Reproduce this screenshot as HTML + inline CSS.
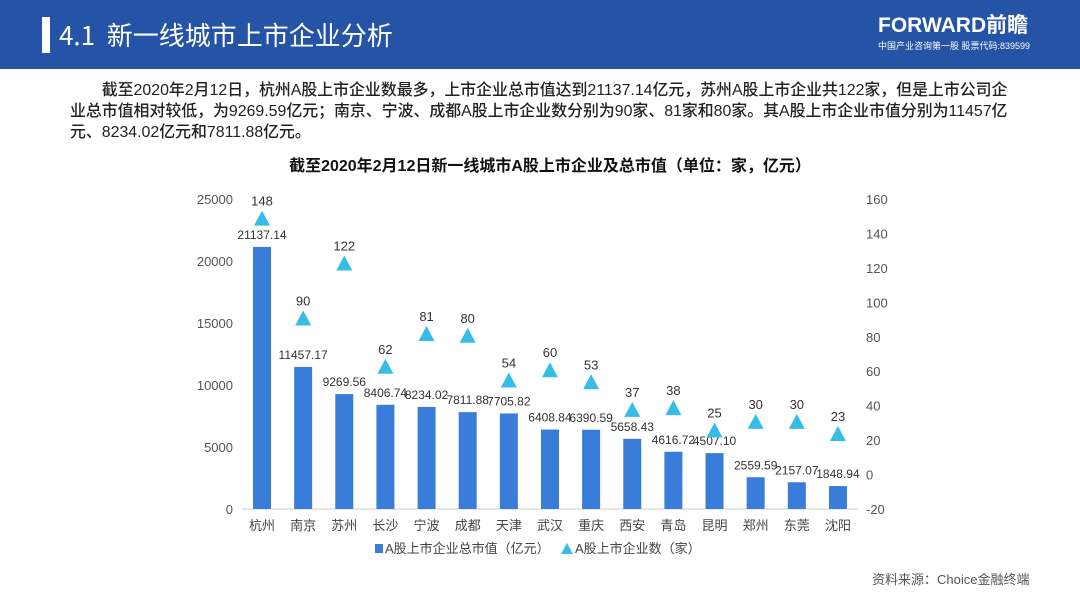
<!DOCTYPE html>
<html><head><meta charset="utf-8"><style>
body{margin:0;width:1080px;height:608px;background:#fff;overflow:hidden;position:relative;font-family:"Liberation Sans","Noto Sans CJK SC",sans-serif}
.hdr{position:absolute;left:0;top:0;width:1080px;height:69px;background:#2553a5}
.bar{position:absolute;left:42px;top:17px;width:8px;height:36px;background:#fff}
.ttl{position:absolute;left:59px;top:17px;color:#fff;font-size:26px;line-height:36px;font-family:"Noto Sans CJK SC",sans-serif}
.logo{position:absolute;left:878px;top:14px;color:#fff;font-size:21px;font-weight:bold;line-height:24px}
.logo2{position:absolute;left:878px;top:40px;color:#fff;font-size:9px;line-height:12px}
.p{position:absolute;left:70px;top:80px;width:950px;font-size:15.9px;line-height:21px;color:#222;font-family:"Liberation Sans","Noto Sans CJK SC",sans-serif;font-weight:500}
.src{position:absolute;left:872px;top:569px;font-size:13px;color:#555}
svg{position:absolute;left:0;top:0}
</style></head><body>
<div class="hdr"></div>
<div class="bar"></div>
<div class="ttl">4.1&nbsp; 新一线城市上市企业分析</div>
<div class="logo">FORWARD前瞻</div>
<div class="logo2">中国产业咨询第一股 股票代码:839599</div>
<div class="p">&emsp;&emsp;截至2020年2月12日，杭州A股上市企业数最多，上市企业总市值达到21137.14亿元，苏州A股上市企业共122家，但是上市公司企业总市值相对较低，为9269.59亿元；南京、宁波、成都A股上市企业数分别为90家、81家和80家。其A股上市企业市值分别为11457亿元、8234.02亿元和7811.88亿元。</div>
<div class="src">资料来源：Choice金融终端</div>
<svg id="c" width="1080" height="608"></svg>
<script>
const cities=["杭州","南京","苏州","长沙","宁波","成都","天津","武汉","重庆","西安","青岛","昆明","郑州","东莞","沈阳"];
const values=[21137.14,11457.17,9269.56,8406.74,8234.02,7811.88,7705.82,6408.84,6390.59,5658.43,4616.72,4507.10,2559.59,2157.07,1848.94];
const counts=[148,90,122,62,81,80,54,60,53,37,38,25,30,30,23];
const leftTicks=[0,5000,10000,15000,20000,25000];
const rightTicks=[-20,0,20,40,60,80,100,120,140,160];
const NS="http://www.w3.org/2000/svg",svg=document.getElementById('c');
const yL=v=>509-v/25000*310, yR=v=>509-(v+20)/180*310, xC=i=>262+i*41.14;
function mk(t,a,txt){const e=document.createElementNS(NS,t);for(const k in a)e.setAttribute(k,a[k]);if(txt!=null)e.textContent=txt;svg.appendChild(e);return e;}
let t=mk('text',{x:550,y:171,'text-anchor':'middle','font-size':16,'font-weight':'bold',fill:'#111'},'截至2020年2月12日新一线城市A股上市企业及总市值（单位：家，亿元）');

leftTicks.forEach(v=>{const e=mk('text',{x:233,y:yL(v)+5,'text-anchor':'end','font-size':13,fill:'#555'},String(v));});
rightTicks.forEach(v=>{const e=mk('text',{x:866,y:yR(v)+5,'font-size':13,fill:'#555'},String(v));});
let ax=mk('line',{x1:242,x2:858,y1:509,y2:509,stroke:'#ccc'});
values.forEach((v,i)=>{
 const b=mk('rect',{x:xC(i)-9,y:yL(v),width:18,height:509-yL(v),fill:'#3a7dd8'});
 
 const l=mk('text',{x:xC(i),y:yL(v)-8,'text-anchor':'middle','font-size':12,fill:'#333'},v.toFixed(2));
 
 const c=mk('text',{x:xC(i),y:530,'text-anchor':'middle','font-size':13,fill:'#444'},cities[i]);
 
});
counts.forEach((v,i)=>{
 const x=xC(i),y=yR(v);
 const p=mk('polygon',{points:`${x},${y-9} ${x-8},${y+6} ${x+8},${y+6}`,fill:'#35bde8'});
 
 const l=mk('text',{x:x,y:y-14,'text-anchor':'middle','font-size':13,fill:'#333'},String(v));
 
});
let r=mk('rect',{x:375,y:544,width:8,height:9,fill:'#3a7dd8'});
let lt=mk('text',{x:385,y:553,'font-size':13,fill:'#444'},'A股上市企业总市值（亿元）');
let tr=mk('polygon',{points:'567,543 561,554 573,554',fill:'#35bde8'});
let lt2=mk('text',{x:575,y:553,'font-size':13,fill:'#444'},'A股上市企业数（家）');
</script>
</body></html>
